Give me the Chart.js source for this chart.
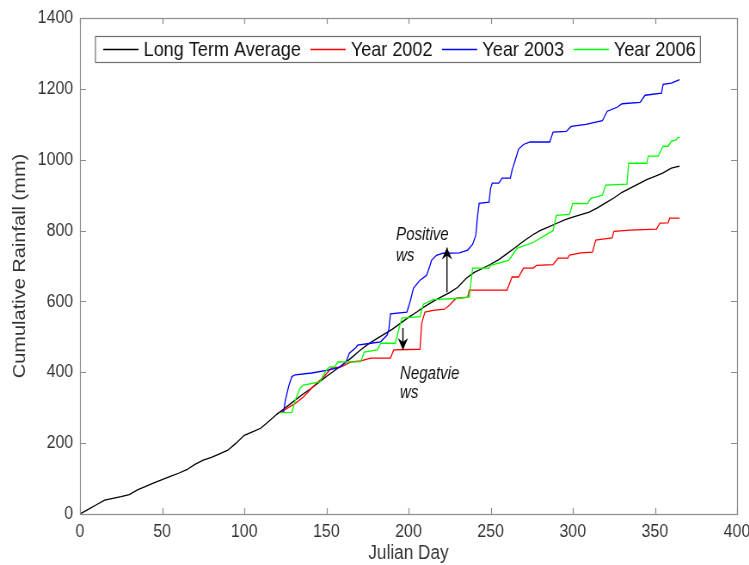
<!DOCTYPE html>
<html>
<head>
<meta charset="utf-8">
<script src="https://cdn.jsdelivr.net/npm/chart.js@4/dist/chart.umd.min.js"></script>
<style>
  html, body { margin: 0; padding: 0; background: #fff; overflow: hidden; }
  /* the figure is drawn wide and condensed horizontally, as exported */
  #wrap { width: 871px; height: 565px; transform: scaleX(0.86); transform-origin: 0 0; }
  #c { display: block; }
</style>
</head>
<body>
<div id="wrap"><canvas id="c" width="871" height="565"></canvas></div>
<script>
// Cumulative rainfall (mm) by Julian day
const ltaDays = [0,5,10,15,20,25,30,35,40,45,50,55,60,65,70,75,80,85,90,95,100,105,110,115,120,125,130,135,140,145,150,155,160,165,170,175,180,185,190,195,200,205,210,215,220,225,230,235,240,245,250,255,260,265,270,275,280,285,290,295,300,305,310,315,320,325,330,335,340,345,350,355,360,365];
const ltaRain = [0,13,26,39,44,49,55,68,78,88,97,106,115,125,140,152,160,170,180,200,222,232,242,262,282,300,318,336,352,370,388,405,422,440,460,478,493,507,521,538,555,570,586,600,613,625,640,665,682,693,705,718,735,752,770,786,800,810,820,830,838,845,852,864,878,892,908,920,932,944,953,963,976,982];

const y2002Days = [122,126,131,136,141,144,148,150,153,159,165,171,177,189,191,207,208,210,215,222,225,229,236,237,260,263,267,270,276,278,288,291,297,298,305,312,314,318,324,325,335,351,353,358,359,365];
const y2002Rain = [286,298,312,330,355,369,385,396,412,415,429,432,440,440,463,465,538,570,575,578,590,609,612,632,632,669,669,694,694,702,704,722,722,731,737,739,773,776,779,798,801,804,821,822,835,835];

const y2003Days = [122,124,125,127,129,131,141,151,158,162,164,168,169,177,183,187,188,189,199,201,203,207,211,213,214,217,221,231,236,239,241,242,243,249,250,251,255,257,262,263,265,267,270,274,286,288,296,299,308,318,321,327,330,341,344,354,355,360,364,365];
const y2003Rain = [286,290,320,360,388,393,398,406,414,430,454,470,477,482,486,505,520,565,570,600,637,660,674,700,716,730,736,737,745,761,787,840,877,880,920,934,934,948,948,970,999,1030,1043,1050,1050,1078,1080,1094,1100,1110,1137,1148,1158,1162,1182,1188,1213,1216,1224,1226];

const y2006Days = [122,129,131,134,136,146,148,150,152,155,157,171,173,181,183,192,194,196,207,209,215,231,237,239,249,250,261,264,266,276,287,288,290,298,300,309,311,315,318,320,333,334,345,346,352,355,358,360,363,364,365];
const y2006Rain = [286,287,321,355,364,373,390,406,415,415,429,430,457,463,482,482,520,553,557,592,605,609,612,694,694,702,716,736,750,767,797,800,843,846,877,876,891,896,900,928,931,990,990,1010,1010,1038,1038,1052,1056,1063,1063];

const xTicks = [0,50,100,150,200,250,300,350,400];
const yTicks = [0,200,400,600,800,1000,1200,1400];

const seriesNames = ['Long Term Average','Year 2002','Year 2003','Year 2006'];
const seriesColors = ['#000000','#ff0000','#0000ff','#00ff00'];

const toPoints = (d, v) => d.map((x, i) => ({ x: x, y: v[i] }));

const FONT = '"Liberation Sans", Arial, Helvetica, sans-serif';
const AXIS_GRAY = '#8c8c8c';
const TEXT_GRAY = '#333333';

// Frame with inward ticks on all four sides
const framePlugin = {
  id: 'frame',
  afterDraw(chart) {
    const { ctx, chartArea: a, scales } = chart;
    ctx.save();
    ctx.strokeStyle = AXIS_GRAY;
    ctx.lineWidth = 1.2;
    ctx.strokeRect(Math.round(a.left) + 0.5, Math.round(a.top) + 0.5,
                   Math.round(a.right - a.left), Math.round(a.bottom - a.top));
    const lenX = 6, lenY = 7;
    ctx.beginPath();
    xTicks.forEach(t => {
      const px = Math.round(scales.x.getPixelForValue(t)) + 0.5;
      ctx.moveTo(px, a.bottom); ctx.lineTo(px, a.bottom - lenX);
      ctx.moveTo(px, a.top); ctx.lineTo(px, a.top + lenX);
    });
    yTicks.forEach(t => {
      const py = Math.round(scales.y.getPixelForValue(t)) + 0.5;
      ctx.moveTo(a.left, py); ctx.lineTo(a.left + lenY, py);
      ctx.moveTo(a.right, py); ctx.lineTo(a.right - lenY, py);
    });
    ctx.stroke();
    ctx.restore();
  }
};

// Water-surplus / deficit arrows and their labels
const notes = [
  { text: ['Positive', 'ws'], day: 192.4, rain: [787, 728], from: [223.4, 626], to: [223.4, 752] },
  { text: ['Negatvie', 'ws'], day: 194.8, rain: [395, 341], from: [196.6, 525], to: [196.6, 463] }
];

function arrow(ctx, x1, y1, x2, y2) {
  ctx.beginPath();
  ctx.moveTo(x1, y1);
  ctx.lineTo(x2, y2);
  ctx.stroke();
  const ang = Math.atan2(y2 - y1, x2 - x1);
  const L = 12, W = 6, N = 8;
  ctx.beginPath();
  ctx.moveTo(x2, y2);
  ctx.lineTo(x2 - L * Math.cos(ang) + W * Math.sin(ang), y2 - L * Math.sin(ang) - W * Math.cos(ang));
  ctx.lineTo(x2 - N * Math.cos(ang), y2 - N * Math.sin(ang));
  ctx.lineTo(x2 - L * Math.cos(ang) - W * Math.sin(ang), y2 - L * Math.sin(ang) + W * Math.cos(ang));
  ctx.closePath();
  ctx.fill();
}

const notesPlugin = {
  id: 'notes',
  afterDatasetsDraw(chart) {
    const { ctx, scales: { x, y } } = chart;
    ctx.save();
    ctx.fillStyle = '#000';
    ctx.strokeStyle = '#000';
    ctx.lineWidth = 1.4;
    notes.forEach(n => {
      arrow(ctx, x.getPixelForValue(n.from[0]), y.getPixelForValue(n.from[1]),
                 x.getPixelForValue(n.to[0]), y.getPixelForValue(n.to[1]));
    });
    ctx.font = 'italic 17.5px ' + FONT;
    ctx.fillStyle = '#111';
    ctx.textBaseline = 'middle';
    ctx.textAlign = 'left';
    notes.forEach(n => {
      n.text.forEach((t, i) => ctx.fillText(t, x.getPixelForValue(n.day), y.getPixelForValue(n.rain[i])));
    });
    ctx.restore();
  }
};

// Boxed single-row legend inside the plot
const legendPlugin = {
  id: 'boxLegend',
  afterDraw(chart) {
    const { ctx } = chart;
    ctx.save();
    ctx.font = '21px ' + FONT;
    const left = 110.5, top = 36, h = 26, lineLen = 41, gap = 6, after = 11;
    let cx = left + 9.5;
    const items = seriesNames.map((name, i) => {
      const w = ctx.measureText(name).width;
      const it = { name, color: seriesColors[i], x: cx, w };
      cx += lineLen + gap + w + after;
      return it;
    });
    const width = cx - after + 5 - left;
    ctx.fillStyle = '#fff';
    ctx.fillRect(left, top, width, h);
    ctx.strokeStyle = '#6e6e6e';
    ctx.lineWidth = 1.2;
    ctx.strokeRect(left + 0.5, top + 0.5, width, h);
    const midY = top + h / 2 + 0.5;
    items.forEach(it => {
      ctx.strokeStyle = it.color;
      ctx.lineWidth = 1.3;
      ctx.beginPath();
      ctx.moveTo(it.x, midY);
      ctx.lineTo(it.x + lineLen, midY);
      ctx.stroke();
      ctx.fillStyle = '#111';
      ctx.textBaseline = 'middle';
      ctx.fillText(it.name, it.x + lineLen + gap, midY + 1);
    });
    ctx.restore();
  }
};

const allDays = [ltaDays, y2002Days, y2003Days, y2006Days];
const allRain = [ltaRain, y2002Rain, y2003Rain, y2006Rain];

new Chart(document.getElementById('c'), {
  type: 'line',
  data: {
    datasets: seriesNames.map((name, i) => ({
      label: name,
      data: toPoints(allDays[i], allRain[i]),
      borderColor: seriesColors[i],
      borderWidth: 1.3,
      pointRadius: 0,
      tension: 0,
      fill: false,
      order: 4 - i
    }))
  },
  options: {
    responsive: false,
    animation: false,
    layout: { autoPadding: false, padding: { top: 18, right: 14, left: 0, bottom: 0 } },
    plugins: { legend: { display: false }, tooltip: { enabled: false } },
    scales: {
      x: {
        type: 'linear',
        min: 0, max: 400,
        afterBuildTicks: s => { s.ticks = xTicks.map(v => ({ value: v })); },
        afterFit: s => { s.height = 51; s.paddingLeft = 0; s.paddingRight = 0; },
        grid: { display: false, drawTicks: false },
        border: { display: false },
        ticks: { color: TEXT_GRAY, font: { family: FONT, size: 18.5 }, padding: 7, maxRotation: 0, callback: v => String(v) },
        title: { display: true, text: 'Julian Day', color: TEXT_GRAY, font: { family: FONT, size: 20 }, padding: { top: 0, bottom: 0 } }
      },
      y: {
        type: 'linear',
        min: 0, max: 1400,
        afterBuildTicks: s => { s.ticks = yTicks.map(v => ({ value: v })); },
        afterFit: s => { s.width = 93; s.paddingTop = 0; s.paddingBottom = 0; },
        grid: { display: false, drawTicks: false },
        border: { display: false },
        ticks: { color: TEXT_GRAY, font: { family: FONT, size: 18.5 }, padding: 8, callback: v => String(v) },
        title: { display: true, text: 'Cumulative Rainfall (mm)', color: TEXT_GRAY, font: { family: FONT, size: 20 }, padding: { top: 11, bottom: 0 } }
      }
    }
  },
  plugins: [framePlugin, notesPlugin, legendPlugin]
});
</script>
</body>
</html>
